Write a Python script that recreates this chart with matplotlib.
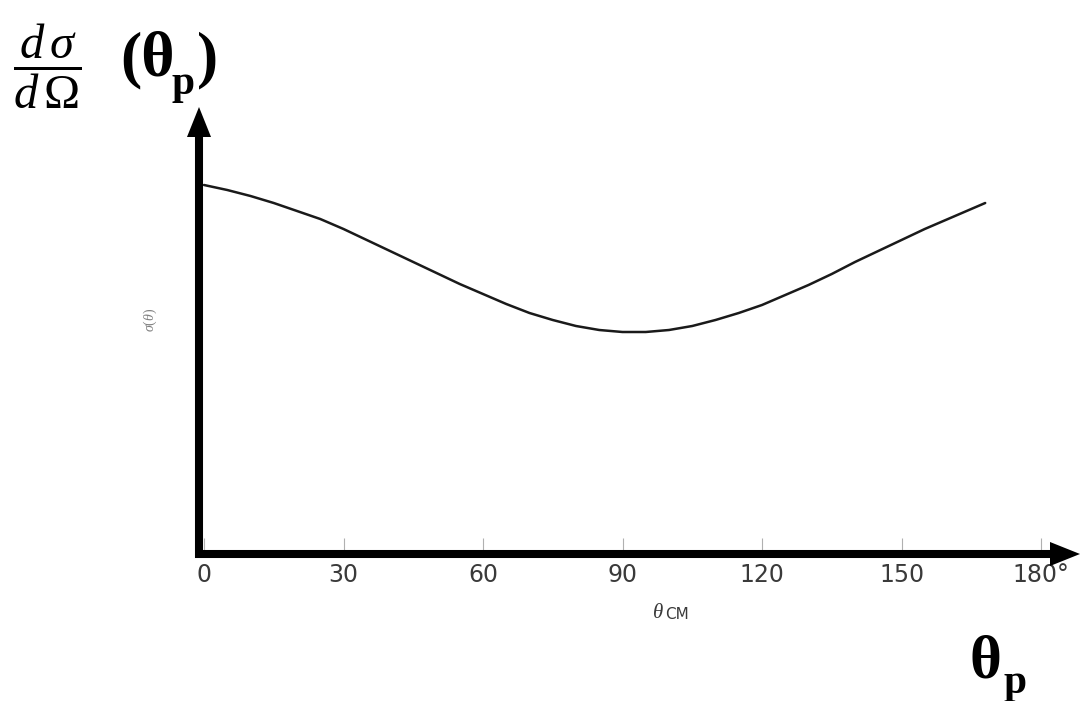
import numpy as np
import matplotlib.pyplot as plt

# curve: theta_cm in degrees, height in arbitrary units
theta_cm = [0, 5, 10, 15, 20, 25, 30, 35, 40, 45, 50, 55, 60, 65, 70, 75, 80, 85,
            90, 95, 100, 105, 110, 115, 120, 125, 130, 135, 140, 145, 150, 155,
            160, 165, 168]
cross_section = [3.68, 3.63, 3.57, 3.50, 3.42, 3.34, 3.24, 3.13, 3.02, 2.91,
                 2.80, 2.69, 2.59, 2.49, 2.40, 2.33, 2.27, 2.23, 2.21, 2.21,
                 2.23, 2.27, 2.33, 2.40, 2.48, 2.58, 2.68, 2.79, 2.91, 3.02,
                 3.13, 3.24, 3.34, 3.44, 3.50]
tick_positions = [0, 30, 60, 90, 120, 150, 180]
tick_labels = ['0', '30', '60', '90', '120', '150', '180°']

W, H = 1084, 701
PX_PER_DEG = (1041 - 204) / 180.0


def fx(px):
    return px / W


def fy(py):
    return 1 - py / H


def dx(px):
    # pixel column -> degrees
    return (px - 204) / PX_PER_DEG


def dy(py):
    # pixel row -> data height
    return (553 - py) / 100.0


plt.rcParams['mathtext.fontset'] = 'custom'
plt.rcParams['mathtext.rm'] = 'Liberation Serif'
plt.rcParams['mathtext.it'] = 'Liberation Serif:italic'
plt.rcParams['mathtext.bf'] = 'Liberation Serif:bold'

fig = plt.figure(figsize=(10.84, 7.01), dpi=100)
ax = fig.add_axes([fx(204), fy(553), (1041 - 204) / W, (553 - 107) / H])
ax.set_xlim(0, 180)
ax.set_ylim(0, 4.46)
for s in ax.spines.values():
    s.set_visible(False)

ax.plot(theta_cm, cross_section, color='#1a1a1a', lw=1.8,
        solid_joinstyle='round', solid_capstyle='round', clip_on=False)

ax.set_xticks(tick_positions)
ax.set_xticklabels(tick_labels)
ax.set_yticks([])
ax.tick_params(axis='x', direction='in', length=11, width=0.8, color='#b0b0b0',
               labelsize=17, labelcolor='#3a3a3a', pad=7)

# thick arrow axes
arrow_kw = dict(arrowstyle='simple,head_length=21.6,head_width=17.3,tail_width=5.8',
                mutation_scale=1, fc='black', ec='none', lw=0,
                shrinkA=0, shrinkB=0, clip_on=False)
ax.annotate('', xy=(dx(1080), dy(554)), xytext=(dx(195), dy(554)),
            arrowprops=arrow_kw, annotation_clip=False)
ax.annotate('', xy=(dx(199), dy(107)), xytext=(dx(199), dy(558)),
            arrowprops=arrow_kw, annotation_clip=False)

# scanned axis labels
fig.text(fx(664), fy(618), r'$\theta$', fontsize=15, color='#3a3a3a',
         ha='right', va='baseline')
fig.text(fx(665), fy(619), 'CM', fontsize=11, color='#3a3a3a',
         ha='left', va='baseline')
fig.text(fx(150), fy(320), r'$\sigma(\theta)$', rotation=90, fontsize=10,
         color='#808080', ha='center', va='center')

# large annotations
fig.text(fx(13), fy(66), r'$\dfrac{d\,\sigma}{d\,\Omega}$', fontsize=35,
         ha='left', va='center')
fig.text(fx(120), fy(75), '(θ', family='Liberation Serif', weight='bold',
         fontsize=46, va='baseline')
fig.text(fx(172), fy(94), 'p', family='Liberation Serif', weight='bold',
         fontsize=30, va='baseline')
fig.text(fx(197), fy(75), ')', family='Liberation Serif', weight='bold',
         fontsize=46, va='baseline')
fig.text(fx(970), fy(677), 'θ', family='Liberation Serif', weight='bold',
         fontsize=44, va='baseline')
fig.text(fx(1003), fy(693), 'p', family='Liberation Serif', weight='bold',
         fontsize=30, va='baseline')

fig.savefig('out.png', dpi=100)
